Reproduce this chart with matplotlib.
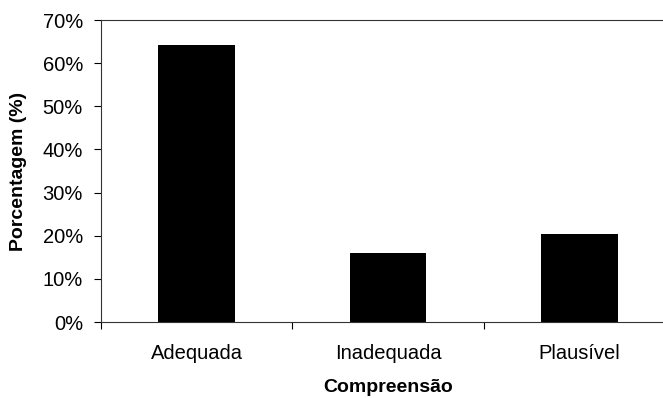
import matplotlib.pyplot as plt
import numpy as np
from matplotlib.ticker import FuncFormatter, FixedLocator

plt.rcParams['font.family'] = ['Liberation Sans', 'DejaVu Sans']

categorias = ['Adequada', 'Inadequada', 'Plausível']
porcentagem = [64.2, 15.9, 20.4]

fig = plt.figure(figsize=(6.63, 3.98), dpi=100)
ax = fig.add_axes([101 / 663, 1 - 322 / 398, 574 / 663, 302 / 398])

x = np.arange(len(categorias))
ax.bar(x, porcentagem, width=0.4, color='black')

ax.set_xlim(-0.5, len(categorias) - 0.5)
ax.set_ylim(0, 70)
ax.set_yticks(np.arange(0, 71, 10))
ax.yaxis.set_major_formatter(FuncFormatter(lambda v, p: '%d%%' % v))
ax.set_xticks(x)
ax.set_xticklabels(categorias)
ax.xaxis.set_minor_locator(FixedLocator(np.arange(-0.5, len(categorias), 1)))

ax.tick_params(axis='y', direction='out', length=5, width=0.8, labelsize=14.5, pad=8)
ax.tick_params(axis='x', which='major', length=0, labelsize=14.5, pad=16)
ax.tick_params(axis='x', which='minor', direction='out', length=5, width=0.8)

ax.spines['right'].set_visible(False)
for s in ax.spines.values():
    s.set_linewidth(0.8)
    s.set_color('#333333')

ax.set_ylabel('Porcentagem (%)', fontsize=14, fontweight='bold', labelpad=11)
ax.set_xlabel('Compreensão', fontsize=14, fontweight='bold', labelpad=11)

fig.savefig('out.png', dpi=100)
